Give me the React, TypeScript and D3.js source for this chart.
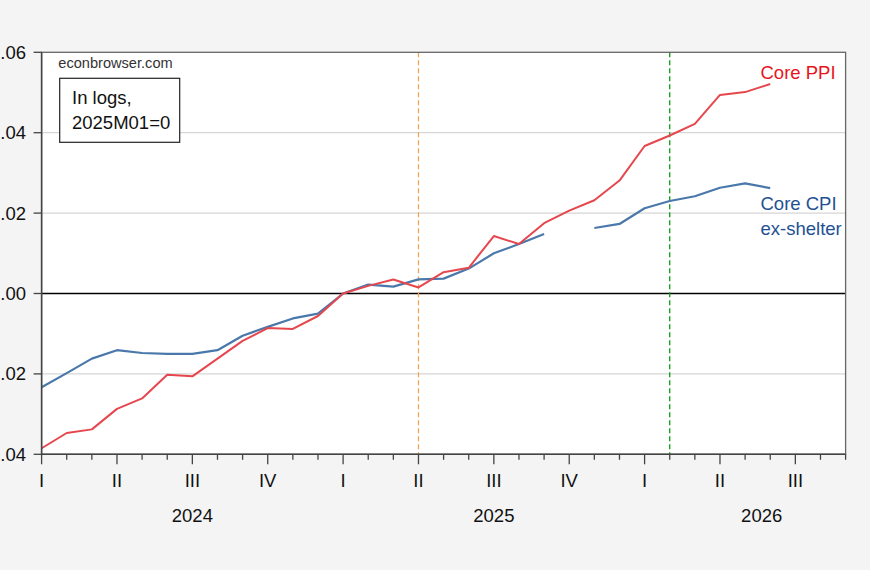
import * as d3 from "d3";

const months = [
  "2024-01", "2024-02", "2024-03", "2024-04", "2024-05", "2024-06",
  "2024-07", "2024-08", "2024-09", "2024-10", "2024-11", "2024-12",
  "2025-01", "2025-02", "2025-03", "2025-04", "2025-05", "2025-06",
  "2025-07", "2025-08", "2025-09", "2025-10", "2025-11", "2025-12",
  "2026-01", "2026-02", "2026-03", "2026-04", "2026-05", "2026-06",
];

const corePPI = [
  -0.0385, -0.0347, -0.0338, -0.0287, -0.0261, -0.0202,
  -0.0206, -0.0162, -0.0118, -0.0086, -0.0088, -0.0056,
  0.0, 0.0019, 0.0035, 0.0015, 0.0053, 0.0064,
  0.0143, 0.0123, 0.0175, 0.0206, 0.0232, 0.0281,
  0.0367, 0.0393, 0.0422, 0.0494, 0.0501, 0.0521,
];

// Oct 2025 CPI missing
const coreCPIxShelter = [
  -0.0233, -0.0198, -0.0162, -0.0141, -0.0148, -0.015,
  -0.015, -0.0141, -0.0105, -0.0083, -0.0062, -0.005,
  0.0, 0.0022, 0.0017, 0.0035, 0.0037, 0.0062,
  0.01, 0.0123, 0.0148, null, 0.0163, 0.0173,
  0.0212, 0.023, 0.0242, 0.0263, 0.0274, 0.0262,
];

const yTicks = [0.06, 0.04, 0.02, 0.0, -0.02, -0.04];
const yTickLabels = [".06", ".04", ".02", ".00", "-.02", "-.04"];
const quarterLabels = ["I", "II", "III", "IV"];
const years = ["2024", "2025", "2026"];
const yearCenters = [6, 18, 28.66]; // month index where year label sits
const nMonths = 33; // Jan 2024 .. Sep 2026 on axis
const vLines = ["2025-04", "2026-02"];

const W = 870;
const H = 570;
const left = 41.6;
const right = 845.6;
const top = 52.3;
const bottom = 454.3;
const font = "'Liberation Sans', Arial, sans-serif";

export default function App() {
  const x = d3.scaleLinear([0, nMonths - 1], [left, right]);
  const y = d3.scaleLinear([-0.04, 0.06], [bottom, top]);
  const idx = (m: string) => months.indexOf(m);

  const line = d3
    .line<number | null>()
    .defined((d) => d !== null)
    .x((d, i) => x(i))
    .y((d) => y(d as number));

  const ticks = d3.range(nMonths);

  return (
    <svg width={W} height={H} style={{ display: "block" }}>
      <style>{"body{margin:0}"}</style>
      <rect width={W} height={H} fill="#f4f4f4" />
      <rect x={left} y={top} width={right - left} height={bottom - top} fill="#fff" />

      {/* grid */}
      {yTicks.filter((t) => t !== 0 && t !== 0.06 && t !== -0.04).map((t) => (
        <line key={t} x1={left} x2={right} y1={y(t)} y2={y(t)} stroke="#d6d6d6" strokeWidth={1.2} />
      ))}
      <line x1={left} x2={right} y1={y(0)} y2={y(0)} stroke="#000" strokeWidth={1.3} />

      {/* event lines */}
      <line x1={x(idx(vLines[0]))} x2={x(idx(vLines[0]))} y1={top} y2={bottom}
        stroke="#f5a04a" strokeWidth={1.2} strokeDasharray="5,3" />
      <line x1={x(idx(vLines[1]))} x2={x(idx(vLines[1]))} y1={top} y2={bottom}
        stroke="#0c9a0c" strokeWidth={1.3} strokeDasharray="5,3" />

      {/* series */}
      <path d={line(coreCPIxShelter) as string} fill="none" stroke="#4a78aa" strokeWidth={2.2} strokeLinejoin="round" />
      <path d={line(corePPI) as string} fill="none" stroke="#e6474e" strokeWidth={2} strokeLinejoin="round" />

      {/* frame */}
      <rect x={left} y={top} width={right - left} height={bottom - top} fill="none" stroke="#666" strokeWidth={1.3} />
      <line x1={left} x2={left} y1={top} y2={bottom + 1} stroke="#444" strokeWidth={1.5} />
      <line x1={left} x2={right} y1={bottom} y2={bottom} stroke="#444" strokeWidth={1.5} />

      {/* y axis */}
      {yTicks.map((t, i) => (
        <g key={t}>
          <line x1={left - 8} x2={left} y1={y(t)} y2={y(t)} stroke="#444" strokeWidth={1.3} />
          <text x={26} y={y(t) + 6.5} textAnchor="end" fontFamily={font} fontSize={18.5} fill="#111">
            {yTickLabels[i]}
          </text>
        </g>
      ))}

      {/* x axis */}
      {ticks.map((i) => (
        <line key={i} x1={x(i)} x2={x(i)} y1={bottom} y2={bottom + (i % 3 === 0 ? 10 : 5.5)}
          stroke="#444" strokeWidth={1.3} />
      ))}
      {ticks.filter((i) => i % 3 === 0 && i < months.length + 1).map((i) => (
        <text key={i} x={x(i)} y={487} textAnchor="middle" fontFamily={font} fontSize={18.5} fill="#111">
          {quarterLabels[(i / 3) % 4]}
        </text>
      ))}
      {years.map((yr, i) => (
        <text key={yr} x={x(yearCenters[i])} y={522} textAnchor="middle" fontFamily={font} fontSize={18.5} fill="#111">
          {yr}
        </text>
      ))}

      {/* annotations */}
      <text x={58.3} y={67.5} fontFamily={font} fontSize={14.6} fill="#333">econbrowser.com</text>
      <rect x={59.7} y={78.3} width={120} height={64} fill="#fff" stroke="#222" strokeWidth={1.2} />
      <text x={72} y={104} fontFamily={font} fontSize={18.5} fill="#111">In logs,</text>
      <text x={72} y={128.5} fontFamily={font} fontSize={18.5} fill="#111">2025M01=0</text>

      <text x={760.5} y={79} fontFamily={font} fontSize={18.5} fill="#e8141c">Core PPI</text>
      <text x={760.5} y={210} fontFamily={font} fontSize={18.5} fill="#1f5192">Core CPI</text>
      <text x={760.5} y={234.5} fontFamily={font} fontSize={18.5} fill="#1f5192">ex-shelter</text>
    </svg>
  );
}
